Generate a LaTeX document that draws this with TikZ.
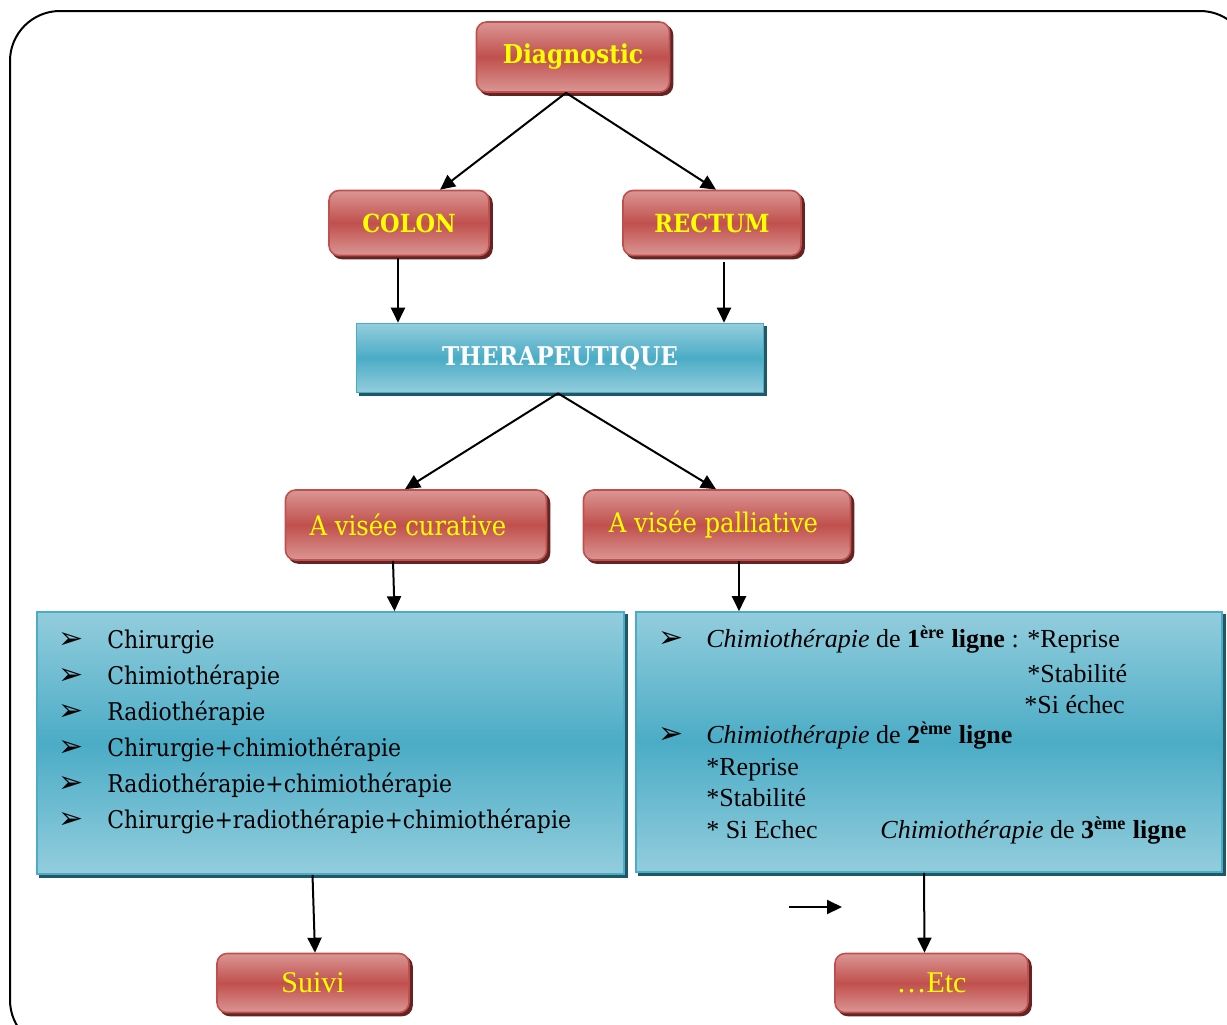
\documentclass[tikz,border=0pt]{standalone}
\usepackage{fontspec}
\setmainfont{Liberation Serif}
\newfontfamily\cambria[FakeStretch=0.9]{DejaVu Serif}
\newfontfamily\symfont{DejaVu Sans}
\usepackage{tikz}
\usetikzlibrary{arrows.meta,shadows,positioning}

\definecolor{redmid}{HTML}{C0504D}
\definecolor{redlight}{HTML}{DA9694}
\definecolor{redline}{HTML}{C0504D}
\definecolor{redshade}{HTML}{632423}
\definecolor{bluemid}{HTML}{4BACC6}
\definecolor{bluelight}{HTML}{93CDDD}
\definecolor{blueshade}{HTML}{215868}
\definecolor{txtyellow}{HTML}{FFFF00}

\tikzset{
  redbox/.style={rounded corners=5pt, draw=redline, line width=0.8pt,
    top color=redlight, bottom color=redlight, middle color=redmid,
    copy shadow={shadow xshift=1.5pt, shadow yshift=-1.5pt, fill=redshade, draw=redshade},
    inner sep=0pt, text=txtyellow},
  bluebox/.style={draw=bluemid, line width=0.8pt,
    top color=bluelight, bottom color=bluelight, middle color=bluemid,
    copy shadow={shadow xshift=1.5pt, shadow yshift=-1.5pt, fill=blueshade, draw=blueshade},
    inner sep=0pt},
  txt/.style={anchor=base west, inner sep=0pt, font=\fontsize{13}{15}\selectfont},
  item/.style={anchor=base west, inner sep=0pt, font=\cambria\fontsize{12.2}{14}\selectfont},
  bullet/.style={anchor=base west, inner sep=0pt, font=\symfont\fontsize{15}{17}\selectfont},
  >={Triangle[length=7.5pt,width=7pt]},
  link/.style={->, line width=1pt}
}

\begin{document}
\begin{tikzpicture}[x=0.5pt,y=-0.5pt]
  \useasboundingbox (0,0) rectangle (1227,1024);
  \draw[line width=1pt, rounded corners=25pt] (10,11) rectangle (1250,1050);

  % top part
  \node[redbox, minimum width=96.5pt, minimum height=35pt, font=\cambria\bfseries\fontsize{13}{15}\selectfont] (diag) at (573,57) {Diagnostic};
  \node[redbox, minimum width=80pt, minimum height=32.5pt, font=\cambria\bfseries\fontsize{12.5}{15}\selectfont] (colon) at (409,223) {COLON};
  \node[redbox, minimum width=89pt, minimum height=32.5pt, font=\cambria\bfseries\fontsize{12.5}{15}\selectfont] (rectum) at (712,223) {RECTUM};
  \node[bluebox, minimum width=203.5pt, minimum height=34.5pt, text=white, font=\cambria\bfseries\fontsize{12.9}{15}\selectfont] (ther) at (560,358) {THERAPEUTIQUE};
  \node[redbox, minimum width=130.5pt, minimum height=35pt, font=\cambria\fontsize{13.5}{15}\selectfont] (cur) at (416,525) {A visée curative\kern8pt};
  \node[redbox, minimum width=133.5pt, minimum height=35pt, font=\cambria\fontsize{13.5}{15}\selectfont] (pal) at (717,525) {A visée palliative\kern3.5pt};

  % the two lists
  \node[bluebox, minimum width=293.5pt, minimum height=131pt] (lbox) at (330.5,743) {};
  \node[bluebox, minimum width=293pt, minimum height=130pt] (rbox) at (929,742) {};

  \foreach \t [count=\i] in {Chirurgie,Chimiothérapie,Radiothérapie,Chirurgie+chimiothérapie,Radiothérapie+chimiothérapie,Chirurgie+radiothérapie+chimiothérapie}{
    \node[bullet] (lb\i) at (58,{612+36*\i}) {➢};
    \node[item] (li\i) at (107,{612+36*\i}) {\t};
  }

  \node[bullet] (rb1) at (658,647) {➢};
  \node[txt] (r1) at (706,647) {\textit{Chimiothérapie} de \textbf{1\textsuperscript{ère} ligne} : *Reprise};
  \node[txt] (r2) at (1027,682) {*Stabilité};
  \node[txt] (r3) at (1024,713) {*Si échec};
  \node[bullet] (rb2) at (658,743) {➢};
  \node[txt] (r4) at (706,743) {\textit{Chimiothérapie} de \textbf{2\textsuperscript{ème} ligne}};
  \node[txt] (r5) at (706,775) {*Reprise};
  \node[txt] (r6) at (706,806) {*Stabilité};
  \node[txt] (r7) at (706,838) {* Si Echec};
  \node[txt] (r8) at (880,838) {\textit{Chimiothérapie} de \textbf{3\textsuperscript{ème} ligne}};

  % bottom
  \node[redbox, minimum width=96pt, minimum height=29.5pt, font=\fontsize{15}{17}\selectfont] (suivi) at (313,983) {Suivi};
  \node[redbox, minimum width=96.5pt, minimum height=29.5pt, font=\fontsize{15}{17}\selectfont] (etc) at (931.5,983) {\ldots Etc};

  \coordinate (s1) at (789,907);
  \coordinate (s2) at (842,907);

  \draw[link] ([xshift=-3.5pt]diag.south) -- ([xshift=15.5pt]colon.north);
  \draw[link] ([xshift=-3.5pt]diag.south) -- ([xshift=2pt]rectum.north);
  \draw[link] ([xshift=-5.5pt,yshift=-1pt]colon.south) -- ([xshift=-81pt]ther.north);
  \draw[link] ([xshift=6pt,yshift=-3pt]rectum.south) -- ([xshift=82pt]ther.north);
  \draw[link] ([xshift=-1pt]ther.south) -- ([xshift=-5.5pt]cur.north);
  \draw[link] ([xshift=-1pt]ther.south) -- ([xshift=-0.5pt]pal.north);
  \draw[link] ([xshift=-11.5pt]cur.south) -- ([xshift=32pt]lbox.north);
  \draw[link] ([xshift=11pt]pal.south) -- ([xshift=-95pt]rbox.north);
  \draw[link] ([xshift=-9pt]lbox.south) -- ([xshift=1pt]suivi.north);
  \draw[link] ([xshift=-2.5pt]rbox.south) -- ([xshift=-3.5pt]etc.north);
  \draw[link] (s1) -- (s2);
\end{tikzpicture}
\end{document}
